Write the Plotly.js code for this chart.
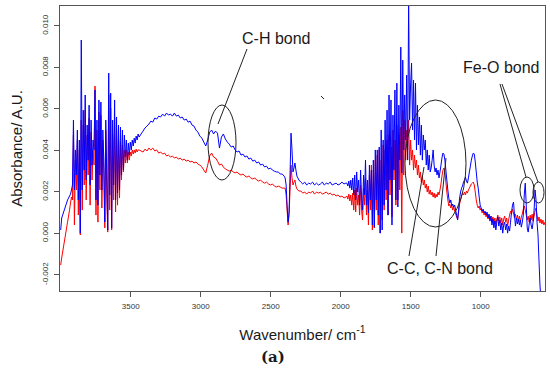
<!DOCTYPE html>
<html>
<head>
<meta charset="utf-8">
<script src="https://cdn.plot.ly/plotly-3.0.1.min.js"></script>
<style>html,body{margin:0;padding:0;background:#fff}#chart{width:550px;height:371px}</style>
</head>
<body>
<div id="chart"></div>
<script>
// ---------------- DATA ----------------
const wavenumber = [
4000,3993,3986,3979,3972,3965,3958,3951,3944,3937,3930,3923,
3916,3909,3902,3895,3888,3881,3874,3867,3860,3853,3846,3839,3832,3825,3818,3811,3804,3797,3790,3783,3776,3769,3762,3755,3748,3741,3734,3727,3720,3713,3706,3699,3692,3685,3678,3671,3664,3657,3650,3643,3636,3629,3622,3615,3608,3601,3594,3587,3580,3573,3566,3559,3552,3545,3538,3531,3524,3517,3510,3503,3496,3489,3482,3475,3468,3461,3454,3447,3440,
3426,3412,3398,3384,3370,3356,3342,3328,3314,3300,3286,3272,3258,3244,3230,3216,3202,3188,3174,3160,3146,3132,3118,3104,3090,3076,3062,3048,3034,3020,3006,2992,2978,2964,2950,2936,2922,2908,2894,2880,2866,2852,2838,2824,2810,2796,2782,2768,2754,2740,2726,2712,2698,2684,2670,2656,2642,2628,2614,2600,2586,2572,2558,2544,2530,2516,2502,2488,2474,2460,2446,2432,2418,2404,
2397,2390,2383,2376,2369,2362,2355,2348,2341,2334,2327,2320,2313,2306,2299,
2285,2271,2257,2243,2229,2215,2201,2187,2173,2159,2145,2131,2117,2103,2089,2075,2061,2047,2033,2019,2005,1991,1977,1963,
1956,1949,1942,1935,1928,1921,1914,1907,1900,1893,1886,1879,1872,1865,1858,1851,1844,1837,1830,1823,1816,1809,1802,1795,1788,1781,1774,1767,1760,1753,1746,1739,1732,1725,1718,1711,1704,1697,1690,1683,1676,1669,1662,1655,1648,1641,1634,1627,1620,1613,1606,1599,1592,1585,1578,1571,1564,1557,1550,1543,1536,1529,1522,1515,1508,1501,1494,1487,1480,1473,1466,1459,1452,1445,1438,1431,1424,1417,1410,1403,1396,1389,1382,1375,1368,1361,
1354,1347,1340,1333,1326,1319,1312,1305,1298,1291,1284,1277,1270,1263,1256,1249,1242,1235,1228,1221,1214,1207,1200,1193,1186,1179,1172,1165,1158,1151,1144,1137,1130,1123,1116,1109,1102,1095,1088,1081,1074,1067,1060,1053,1046,1039,1032,1025,1018,1011,1004,997,990,983,976,969,962,955,948,941,934,927,920,913,906,899,892,885,878,871,864,857,850,843,836,829,822,815,808,801,794,787,780,773,766,759,752,745,738,731,724,717,710,703,696,689,682,675,668,661,654,647,640,633,626,619,612,605,598,591,584,577,570,563,556,549,542
];

// blue spectrum
const absorbanceBlue = [
0.00016,0.00074,0.00088,0.00103,0.00117,0.00132,0.00146,0.00161,0.00170,0.00180,0.00189,0.00209,
0.00233,0.00546,0.00209,0.00402,0.00281,0.00498,0.00161,0.00450,0.00001,0.00932,0.00209,0.00594,0.00305,0.00667,0.00257,0.00522,0.00353,0.00618,0.00233,0.00546,0.00329,0.00450,0.00402,0.00691,0.00161,0.00546,0.00136,0.00643,0.00281,0.00633,0.00209,0.00498,0.00353,0.00054,0.00546,0.00281,0.00016,0.00773,0.00185,0.00676,0.00026,0.00546,0.00233,0.00643,0.00161,0.00561,0.00194,0.00522,0.00209,0.00512,0.00281,0.00498,0.00305,0.00474,0.00368,0.00450,0.00353,0.00435,0.00377,0.00440,0.00402,0.00450,0.00421,0.00459,0.00435,0.00469,0.00450,0.00479,0.00464,
0.00479,0.00493,0.00508,0.00517,0.00527,0.00541,0.00536,0.00556,0.00551,0.00565,0.00561,0.00575,0.00565,0.00580,0.00570,0.00575,0.00565,0.00580,0.00565,0.00570,0.00556,0.00561,0.00546,0.00551,0.00536,0.00541,0.00522,0.00517,0.00498,0.00488,0.00469,0.00459,0.00440,0.00421,0.00450,0.00488,0.00498,0.00479,0.00493,0.00483,0.00411,0.00464,0.00479,0.00455,0.00440,0.00430,0.00416,0.00421,0.00402,0.00392,0.00397,0.00377,0.00382,0.00368,0.00373,0.00358,0.00363,0.00348,0.00353,0.00339,0.00344,0.00329,0.00334,0.00320,0.00324,0.00310,0.00315,0.00305,0.00300,0.00296,0.00296,0.00286,0.00286,0.00276,
0.00267,0.00233,0.00136,0.00054,0.00103,0.00281,0.00483,0.00402,0.00296,0.00315,0.00339,0.00305,0.00276,0.00267,0.00257,
0.00247,0.00238,0.00247,0.00233,0.00242,0.00238,0.00247,0.00233,0.00242,0.00233,0.00238,0.00247,0.00233,0.00242,0.00238,0.00247,0.00233,0.00238,0.00242,0.00233,0.00238,0.00247,0.00238,0.00242,
0.00242,0.00228,0.00252,0.00218,0.00257,0.00209,0.00267,0.00185,0.00281,0.00161,0.00296,0.00199,0.00257,0.00136,0.00305,0.00170,0.00112,0.00281,0.00185,0.00353,0.00136,0.00257,0.00098,0.00329,0.00161,0.00305,0.00040,0.00353,0.00030,0.00402,0.00161,0.00402,0.00088,0.00416,0.00001,0.00498,0.00016,0.00450,0.00136,0.00546,0.00209,0.00594,0.00088,0.00667,0.00257,0.00643,0.00040,0.00570,0.00305,0.00691,0.00161,0.00724,0.00127,0.00618,0.00353,0.00898,0.00291,0.00835,0.00402,0.00667,0.00450,0.00763,0.00353,0.01120,0.00546,0.00715,0.00821,0.00498,0.00739,0.00450,0.00724,0.00402,0.00618,0.00426,0.00561,0.00377,0.00522,0.00353,0.00474,0.00402,0.00450,0.00329,0.00402,0.00305,0.00377,0.00296,
0.00315,0.00353,0.00402,0.00329,0.00296,0.00315,0.00281,0.00305,0.00267,0.00296,0.00329,0.00363,0.00387,0.00382,0.00353,0.00305,0.00257,0.00209,0.00170,0.00146,0.00161,0.00132,0.00141,0.00127,0.00136,0.00112,0.00088,0.00064,0.00112,0.00170,0.00199,0.00218,0.00228,0.00247,0.00257,0.00271,0.00252,0.00242,0.00267,0.00296,0.00324,0.00353,0.00373,0.00387,0.00382,0.00344,0.00296,0.00247,0.00218,0.00175,0.00136,0.00122,0.00107,0.00117,0.00098,0.00107,0.00088,0.00103,0.00074,0.00093,0.00059,0.00083,0.00040,0.00069,0.00026,0.00059,0.00016,0.00054,0.00079,0.00035,0.00064,0.00016,0.00050,0.00001,0.00040,0.00054,0.00016,0.00045,0.00001,0.00035,0.00011,0.00054,0.00103,0.00136,0.00151,0.00088,0.00035,0.00074,0.00045,0.00069,0.00040,0.00064,0.00030,0.00054,0.00088,0.00185,0.00242,0.00136,0.00026,0.00006,0.00045,0.00074,0.00040,0.00021,0.00054,0.00112,0.00209,0.00161,0.00054,-0.00008,-0.00129,-0.00249,-0.00321,-0.00283,-0.00312,-0.00321,-0.00321
];

// red spectrum
const absorbanceRed = [
-0.00153,-0.00119,-0.00090,-0.00061,-0.00032,-0.00003,0.00026,0.00054,0.00083,0.00112,0.00146,0.00175,
0.00161,0.00474,0.00040,0.00353,0.00209,0.00450,0.00088,0.00402,-0.00008,0.00546,0.00112,0.00522,0.00233,0.00594,0.00161,0.00474,0.00281,0.00556,0.00136,0.00488,0.00257,0.00402,0.00329,0.00710,0.00088,0.00498,0.00054,0.00585,0.00209,0.00570,0.00122,0.00450,0.00281,0.00026,0.00498,0.00185,0.00006,0.00667,0.00112,0.00604,0.00016,0.00474,0.00161,0.00556,0.00103,0.00498,0.00136,0.00450,0.00170,0.00440,0.00257,0.00426,0.00296,0.00402,0.00339,0.00402,0.00339,0.00392,0.00353,0.00392,0.00373,0.00402,0.00382,0.00402,0.00387,0.00406,0.00392,0.00402,0.00402,
0.00397,0.00392,0.00406,0.00397,0.00411,0.00402,0.00411,0.00397,0.00402,0.00387,0.00392,0.00382,0.00387,0.00373,0.00377,0.00368,0.00373,0.00363,0.00368,0.00358,0.00363,0.00353,0.00358,0.00348,0.00353,0.00344,0.00348,0.00339,0.00344,0.00334,0.00329,0.00320,0.00305,0.00291,0.00329,0.00373,0.00387,0.00368,0.00363,0.00348,0.00329,0.00334,0.00320,0.00310,0.00305,0.00300,0.00305,0.00296,0.00291,0.00296,0.00286,0.00281,0.00286,0.00276,0.00271,0.00276,0.00267,0.00262,0.00267,0.00257,0.00252,0.00257,0.00247,0.00242,0.00247,0.00238,0.00233,0.00238,0.00228,0.00223,0.00228,0.00223,0.00218,0.00218,
0.00218,0.00185,0.00112,0.00040,0.00088,0.00209,0.00329,0.00267,0.00233,0.00247,0.00257,0.00228,0.00214,0.00209,0.00204,
0.00204,0.00194,0.00199,0.00189,0.00199,0.00194,0.00204,0.00189,0.00199,0.00194,0.00199,0.00189,0.00194,0.00199,0.00189,0.00194,0.00185,0.00189,0.00180,0.00185,0.00175,0.00180,0.00170,0.00175,
0.00180,0.00165,0.00189,0.00156,0.00185,0.00136,0.00194,0.00112,0.00209,0.00103,0.00218,0.00136,0.00185,0.00088,0.00233,0.00112,0.00064,0.00218,0.00136,0.00267,0.00088,0.00209,0.00040,0.00281,0.00112,0.00329,0.00016,0.00305,0.00026,0.00353,0.00112,0.00377,0.00040,0.00402,0.00001,0.00353,0.00064,0.00426,0.00112,0.00402,0.00161,0.00450,0.00088,0.00474,0.00185,0.00416,0.00079,0.00498,0.00257,0.00450,0.00136,0.00522,0.00161,0.00474,0.00209,0.00512,0.00001,0.00594,0.00281,0.00546,0.00353,0.00498,0.00402,0.00546,0.00329,0.00450,0.00353,0.00402,0.00305,0.00377,0.00315,0.00353,0.00281,0.00329,0.00267,0.00296,0.00247,0.00276,0.00233,0.00257,0.00218,0.00238,0.00199,0.00228,0.00189,0.00209,
0.00185,0.00199,0.00175,0.00194,0.00170,0.00189,0.00175,0.00199,0.00185,0.00209,0.00238,0.00276,0.00305,0.00315,0.00296,0.00247,0.00199,0.00161,0.00132,0.00141,0.00122,0.00136,0.00112,0.00127,0.00107,0.00093,0.00079,0.00069,0.00103,0.00141,0.00161,0.00180,0.00194,0.00185,0.00199,0.00185,0.00204,0.00194,0.00209,0.00218,0.00228,0.00238,0.00242,0.00247,0.00233,0.00199,0.00161,0.00136,0.00122,0.00132,0.00112,0.00122,0.00098,0.00112,0.00088,0.00103,0.00079,0.00093,0.00069,0.00088,0.00064,0.00083,0.00054,0.00079,0.00050,0.00074,0.00045,0.00069,0.00088,0.00059,0.00079,0.00050,0.00074,0.00040,0.00069,0.00083,0.00054,0.00074,0.00035,0.00064,0.00088,0.00107,0.00093,0.00117,0.00098,0.00074,0.00093,0.00064,0.00088,0.00059,0.00083,0.00054,0.00079,0.00093,0.00117,0.00132,0.00112,0.00088,0.00064,0.00083,0.00054,0.00088,0.00064,0.00093,0.00059,0.00083,0.00107,0.00122,0.00088,0.00059,0.00079,0.00050,0.00069,0.00045,0.00064,0.00040,0.00054
];

const xTickVals = [3500, 3000, 2500, 2000, 1500, 1000];
const yTickVals = [-0.002, 0.000, 0.002, 0.004, 0.006, 0.008, 0.010];
const yTickText = ["-0.002", "0.000", "0.002", "0.004", "0.006", "0.008", "0.010"];
const bondLabels = ["C-H bond", "C-C, C-N bond", "Fe-O bond"];
const panelLabel = "<b>(a)</b>";

// ---------------- LAYOUT HELPERS (pixel -> paper) ----------------
const L = 60, R = 545, T = 6, B = 291;
const X = px => (px - L) / (R - L);
const Y = py => (B - py) / (B - T);
const FONT = "Arial, Liberation Sans, sans-serif";
const SERIF = "DejaVu Serif, Liberation Serif, serif";
const ink = "#1a1a1a";

function ellipse(x0, y0, x1, y1) {
  return {type: "circle", xref: "paper", yref: "paper",
    x0: X(x0), x1: X(x1), y0: Y(y1), y1: Y(y0),
    line: {color: "#222", width: 1}};
}
function seg(xa, ya, xb, yb) {
  return {type: "line", xref: "paper", yref: "paper",
    x0: X(xa), y0: Y(ya), x1: X(xb), y1: Y(yb),
    line: {color: "#222", width: 1}};
}
function label(text, px, py, size, family) {
  return {text: text, xref: "paper", yref: "paper", x: X(px), y: Y(py),
    xanchor: "center", yanchor: "middle", showarrow: false,
    font: {size: size, family: family || FONT, color: ink}};
}

const traces = [
  {x: wavenumber, y: absorbanceRed, type: "scatter", mode: "lines",
   line: {color: "#ff0000", width: 1, simplify: false}, hoverinfo: "skip", showlegend: false},
  {x: wavenumber, y: absorbanceBlue, type: "scatter", mode: "lines",
   line: {color: "#0000ff", width: 1, simplify: false}, hoverinfo: "skip", showlegend: false}
];

const axisCommon = {
  showgrid: false, zeroline: false, showline: true, mirror: true,
  linecolor: "#555", linewidth: 1, ticks: "outside", ticklen: 5,
  tickcolor: "#555", tickwidth: 1, automargin: false,
  tickfont: {size: 8, family: FONT, color: "#333"}
};

const layout = {
  width: 550, height: 371,
  margin: {l: L, r: 550 - R, t: T, b: 371 - B},
  paper_bgcolor: "#fff", plot_bgcolor: "#fff",
  showlegend: false,
  xaxis: Object.assign({}, axisCommon, {
    range: [4005, 541], tickmode: "array", tickvals: xTickVals,
    ticklabelstandoff: 2,
    title: {text: "Wavenumber/ cm<sup>-1</sup>", standoff: 19,
            font: {size: 15, family: FONT, color: ink}}
  }),
  yaxis: Object.assign({}, axisCommon, {
    range: [-0.00278, 0.01096], tickmode: "array",
    tickvals: yTickVals, ticktext: yTickText, tickangle: -90,
    ticklabelstandoff: 3,
    title: {text: "Absorbance/ A.U.", standoff: 14,
            font: {size: 15, family: FONT, color: ink}}
  }),
  annotations: [
    label(bondLabels[0], 275.5, 38.5, 16),
    label(bondLabels[1], 440, 268, 16),
    label(bondLabels[2], 501, 67.5, 16),
    label(panelLabel, 272.5, 357, 15, SERIF)
  ],
  shapes: [
    ellipse(208, 105, 236, 180),
    seg(247, 49, 218, 124),
    ellipse(405, 100, 466, 227),
    seg(409, 256, 424, 167),
    seg(436, 256, 446, 158),
    seg(500, 84, 526, 177),
    seg(502, 84, 538, 182),
    ellipse(520, 177, 534, 203),
    ellipse(533, 182, 544, 203),
    seg(321, 96, 324, 99)
  ]
};

Plotly.newPlot("chart", traces, layout, {staticPlot: true, displayModeBar: false});
</script>
</body>
</html>
